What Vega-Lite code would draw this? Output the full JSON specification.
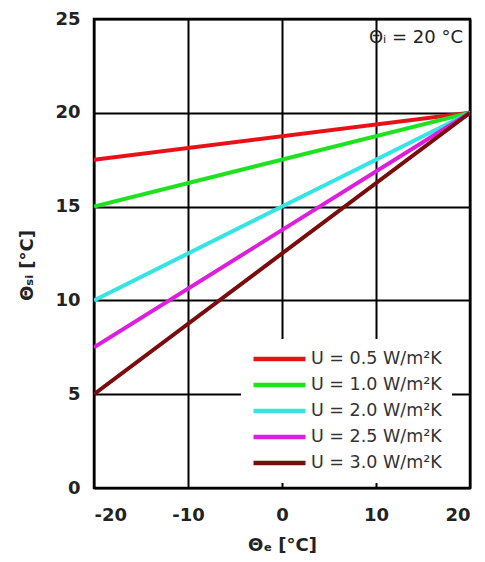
{
  "$schema": "https://vega.github.io/schema/vega-lite/v6.json",
  "width": 376,
  "height": 469,
  "autosize": "none",
  "padding": {"left": 94, "top": 19, "right": 15, "bottom": 74},
  "background": "white",
  "config": {
    "view": {"stroke": "black", "strokeWidth": 2.5},
    "font": "DejaVu Sans"
  },
  "datasets": {
    "lines": [
      {"U": "U = 0.5 W/m²K", "te": -20, "tsi": 17.5},
      {"U": "U = 0.5 W/m²K", "te": 20, "tsi": 20},
      {"U": "U = 1.0 W/m²K", "te": -20, "tsi": 15},
      {"U": "U = 1.0 W/m²K", "te": 20, "tsi": 20},
      {"U": "U = 2.0 W/m²K", "te": -20, "tsi": 10},
      {"U": "U = 2.0 W/m²K", "te": 20, "tsi": 20},
      {"U": "U = 2.5 W/m²K", "te": -20, "tsi": 7.5},
      {"U": "U = 2.5 W/m²K", "te": 20, "tsi": 20},
      {"U": "U = 3.0 W/m²K", "te": -20, "tsi": 5},
      {"U": "U = 3.0 W/m²K", "te": 20, "tsi": 20}
    ],
    "note": [
      {"te": 20, "tsi": 25, "label": "Θᵢ = 20 °C"}
    ]
  },
  "layer": [
    {
      "data": {"name": "lines"},
      "mark": {"type": "line", "strokeWidth": 4, "clip": true},
      "encoding": {
        "x": {
          "field": "te", "type": "quantitative",
          "scale": {"domain": [-20, 20], "nice": false},
          "axis": {
            "values": [-20, -10, 0, 10, 20],
            "labelExpr": "datum.value + ''",
            "title": "Θₑ [°C]",
            "titleFont": "DejaVu Sans", "titleFontSize": 18, "titleFontWeight": "bold", "titleColor": "#222",
            "titleY": 57, "titleBaseline": "middle",
            "labelFont": "DejaVu Sans", "labelFontSize": 18, "labelFontWeight": "bold", "labelColor": "#222",
            "labelPadding": 18, "ticks": false, "tickSize": 0, "domain": false,
            "grid": true, "gridColor": "black", "gridWidth": 2, "gridOpacity": 1
          }
        },
        "y": {
          "field": "tsi", "type": "quantitative",
          "scale": {"domain": [0, 25], "nice": false},
          "axis": {
            "values": [0, 5, 10, 15, 20, 25],
            "title": "Θₛᵢ [°C]",
            "titleFont": "DejaVu Sans", "titleFontSize": 18, "titleFontWeight": "bold", "titleColor": "#222",
            "titleX": -67, "titleY": 246, "titleBaseline": "middle", "titleAngle": -90,
            "labelFont": "DejaVu Sans", "labelFontSize": 18, "labelFontWeight": "bold", "labelColor": "#222",
            "labelPadding": 14, "ticks": false, "tickSize": 0, "domain": false,
            "grid": true, "gridColor": "black", "gridWidth": 2, "gridOpacity": 1
          }
        },
        "color": {
          "field": "U", "type": "nominal",
          "scale": {
            "domain": ["U = 0.5 W/m²K", "U = 1.0 W/m²K", "U = 2.0 W/m²K", "U = 2.5 W/m²K", "U = 3.0 W/m²K"],
            "range": ["#e5121a", "#1fe21f", "#35e5e5", "#dd1fdd", "#7a0c0c"]
          },
          "legend": {
            "orient": "none", "legendX": 147, "legendY": 320,
            "title": null,
            "symbolType": "stroke", "symbolSize": 2704, "symbolStrokeWidth": 4.5,
            "clipHeight": 20, "rowPadding": 6,
            "labelFont": "DejaVu Sans", "labelFontSize": 17.5, "labelColor": "#333",
            "labelOffset": 3, "labelLimit": 300,
            "fillColor": "white", "padding": 10
          }
        }
      }
    },
    {
      "data": {"name": "note"},
      "mark": {"type": "text", "align": "right", "baseline": "middle", "dx": -7, "dy": 19, "fontSize": 18, "font": "DejaVu Sans", "color": "#222"},
      "encoding": {
        "x": {"field": "te", "type": "quantitative"},
        "y": {"field": "tsi", "type": "quantitative"},
        "text": {"field": "label"}
      }
    }
  ]
}
